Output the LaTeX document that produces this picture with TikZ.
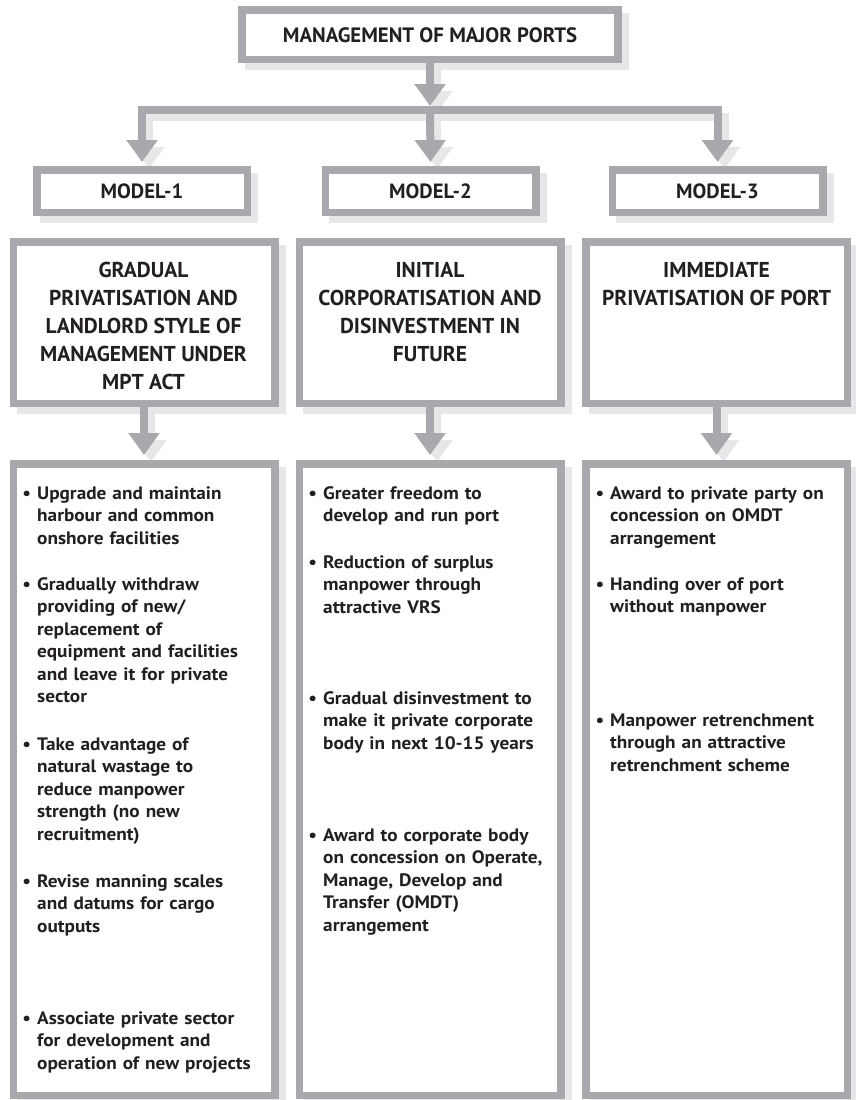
\documentclass[tikz,border=0pt]{standalone}
\usepackage{fontspec}
\setmainfont{PT Sans}
\newfontfamily\bulfont{PT Sans}[FakeStretch=1.07]
\usetikzlibrary{arrows.meta}
\definecolor{bgray}{HTML}{A7A9AC}
\definecolor{sgray}{HTML}{E6E7E8}
\definecolor{ink}{HTML}{231F20}
\begin{document}
\begin{tikzpicture}[x=1pt,y=-1pt,
  pbox/.style={rectangle, draw=bgray, line width=7.5pt, fill=white, inner sep=0pt, text=ink,
     preaction={draw=sgray, fill=sgray, transform canvas={shift={(7pt,-7pt)}}}},
  arr/.style={draw=bgray, line width=8pt, line join=miter},
  shadarr/.style={draw=sgray, line width=8pt, line join=miter, transform canvas={shift={(7pt,-7pt)}}},
  >={Triangle[width=30pt,length=22pt]},
  btitle/.style={anchor=base, align=center, inner sep=0pt, text=ink, font=\fontsize{21.5}{28}\selectfont\bfseries},
  bul/.style={anchor=base west, text width=245pt, align=left, inner sep=0pt, text=ink, font=\bulfont\fontsize{18}{22.5}\selectfont\bfseries},
  modeltxt/.style={text=ink, font=\fontsize{20.6}{24}\selectfont\bfseries}
]
\useasboundingbox (0,0) rectangle (856,1100);

\coordinate (bar) at (430,109.5);

% boxes (with their shadows)
\path
  node[pbox, minimum width=376pt, minimum height=49.5pt] (top) at (430,34.5) {}
  node[pbox, minimum width=210.5pt, minimum height=42.5pt] (m1) at (142,191) {}
  node[pbox, minimum width=210.5pt, minimum height=42.5pt] (m2) at (430.5,191) {}
  node[pbox, minimum width=210.5pt, minimum height=42.5pt] (m3) at (717.5,191) {}
  node[pbox, minimum width=261.5pt, minimum height=161.5pt] (b1) at (144,322.5) {}
  node[pbox, minimum width=261.5pt, minimum height=161.5pt] (b2) at (430,322.5) {}
  node[pbox, minimum width=261.5pt, minimum height=161.5pt] (b3) at (716.5,322.5) {}
  node[pbox, minimum width=261.5pt, minimum height=631.5pt] (l1) at (144,779.5) {}
  node[pbox, minimum width=261.5pt, minimum height=631.5pt] (l2) at (430,779.5) {}
  node[pbox, minimum width=261.5pt, minimum height=631.5pt] (l3) at (716.5,779.5) {};

% connector shadows
\draw[shadarr,->] (top.south) -- ([yshift=3.5pt]bar);
\draw[shadarr,<->] ([yshift=4pt]m1.north) |- (bar) -| ([yshift=4pt]m3.north);
\draw[shadarr,->] (bar) -- ([yshift=4pt]m2.north);
\draw[shadarr,->] (b1.south) -- ([yshift=5pt]l1.north);
\draw[shadarr,->] (b2.south) -- ([yshift=5pt]l2.north);
\draw[shadarr,->] (b3.south) -- ([yshift=5pt]l3.north);

% boxes again, over the connector shadows
\path
  node[pbox, minimum width=376pt, minimum height=49.5pt] (topb) at (top) {}
  node[pbox, minimum width=210.5pt, minimum height=42.5pt] (m1b) at (m1) {}
  node[pbox, minimum width=210.5pt, minimum height=42.5pt] (m2b) at (m2) {}
  node[pbox, minimum width=210.5pt, minimum height=42.5pt] (m3b) at (m3) {}
  node[pbox, minimum width=261.5pt, minimum height=161.5pt] (b1b) at (b1) {}
  node[pbox, minimum width=261.5pt, minimum height=161.5pt] (b2b) at (b2) {}
  node[pbox, minimum width=261.5pt, minimum height=161.5pt] (b3b) at (b3) {}
  node[pbox, minimum width=261.5pt, minimum height=631.5pt] (l1b) at (l1) {}
  node[pbox, minimum width=261.5pt, minimum height=631.5pt] (l2b) at (l2) {}
  node[pbox, minimum width=261.5pt, minimum height=631.5pt] (l3b) at (l3) {};

% connectors
\draw[arr,->] (top.south) -- ([yshift=3.5pt]bar);
\draw[arr,<->] ([yshift=4pt]m1.north) |- (bar) -| ([yshift=4pt]m3.north);
\draw[arr,->] (bar) -- ([yshift=4pt]m2.north);
\draw[arr,->] (b1.south) -- ([yshift=5pt]l1.north);
\draw[arr,->] (b2.south) -- ([yshift=5pt]l2.north);
\draw[arr,->] (b3.south) -- ([yshift=5pt]l3.north);

% texts
\node[text=ink, font=\fontsize{20.8}{24}\selectfont\bfseries] (toptxt) at ([yshift=-1pt]top) {MANAGEMENT OF MAJOR PORTS};
\node[modeltxt] (m1t) at (m1) {MODEL-1};
\node[modeltxt] (m2t) at (m2) {MODEL-2};
\node[modeltxt] (m3t) at (m3) {MODEL-3};

% anchor=base is the baseline of the last line
\node[btitle] (b1t) at (143.5,389) {GRADUAL\\PRIVATISATION AND\\LANDLORD STYLE OF\\MANAGEMENT UNDER\\MPT ACT};
\node[btitle] (b2t) at (430,361) {INITIAL\\CORPORATISATION AND\\DISINVESTMENT IN\\FUTURE};
\node[btitle] (b3t) at (716.5,305) {IMMEDIATE\\PRIVATISATION OF PORT};

% column 1
\node[bul] (c1a) at (37,499) {\llap{\textbullet\hspace{6pt}}Upgrade and maintain\\harbour and common\\onshore facilities};
\node[bul] (c1b) at (37,590) {\llap{\textbullet\hspace{6pt}}Gradually withdraw\\providing of new/\\replacement of\\equipment and facilities\\and leave it for private\\sector};
\node[bul] (c1c) at (37,750) {\llap{\textbullet\hspace{6pt}}Take advantage of\\natural wastage to\\reduce manpower\\strength (no new\\recruitment)};
\node[bul] (c1d) at (37,887) {\llap{\textbullet\hspace{6pt}}Revise manning scales\\and datums for cargo\\outputs};
\node[bul] (c1e) at (37,1024) {\llap{\textbullet\hspace{6pt}}Associate private sector\\for development and\\operation of new projects};

% column 2
\node[bul] (c2a) at (323,499) {\llap{\textbullet\hspace{6pt}}Greater freedom to\\develop and run port};
\node[bul] (c2b) at (323,568) {\llap{\textbullet\hspace{6pt}}Reduction of surplus\\manpower through\\attractive VRS};
\node[bul] (c2c) at (323,704) {\llap{\textbullet\hspace{6pt}}Gradual disinvestment to\\make it private corporate\\body in next 10-15 years};
\node[bul] (c2d) at (323,841) {\llap{\textbullet\hspace{6pt}}Award to corporate body\\on concession on Operate,\\Manage, Develop and\\Transfer (OMDT)\\arrangement};

% column 3
\node[bul] (c3a) at (610,499) {\llap{\textbullet\hspace{6pt}}Award to private party on\\concession on OMDT\\arrangement};
\node[bul] (c3b) at (610,590) {\llap{\textbullet\hspace{6pt}}Handing over of port\\without manpower};
\node[bul] (c3c) at (610,726) {\llap{\textbullet\hspace{6pt}}Manpower retrenchment\\through an attractive\\retrenchment scheme};
\end{tikzpicture}
\end{document}
